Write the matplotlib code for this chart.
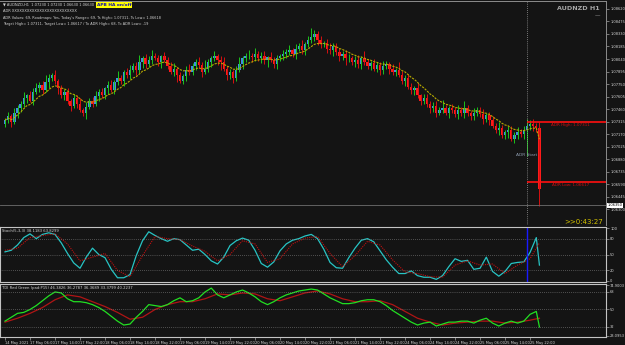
import matplotlib
matplotlib.use("Agg")
import matplotlib.pyplot as plt
import numpy as np
import pandas as pd

# values (AUDNZD H1, MT4 style)
time_labels = ['14 May 2021', '17 May 06:00', '17 May 14:00', '17 May 22:00', '18 May 06:00',
               '18 May 14:00', '18 May 22:00', '19 May 06:00', '19 May 14:00', '19 May 22:00',
               '20 May 06:00', '20 May 14:00', '20 May 22:00', '21 May 06:00', '21 May 14:00',
               '21 May 22:00', '24 May 06:00', '24 May 14:00', '24 May 22:00', '25 May 06:00',
               '25 May 14:00', '25 May 22:00']

first_open = 1.0729
closes = [1.0733, 1.0738, 1.0731, 1.0741, 1.0747, 1.0752,
          1.0759, 1.0762, 1.0756, 1.0766, 1.0770, 1.0774, 1.0768, 1.0777, 1.0782, 1.0785,
          1.0779, 1.0770, 1.0762, 1.0766, 1.0756, 1.0750, 1.0759,
          1.0752, 1.0745, 1.0742, 1.0749, 1.0756, 1.0752, 1.0761, 1.0766,
          1.0762, 1.0770, 1.0774, 1.0768, 1.0777, 1.0782, 1.0779, 1.0789, 1.0785, 1.0791,
          1.0796, 1.0791, 1.0800, 1.0805, 1.0798, 1.0803, 1.0808, 1.0805, 1.0800, 1.0807,
          1.0803, 1.0796, 1.0789, 1.0793, 1.0785, 1.0779, 1.0784, 1.0791, 1.0789, 1.0796, 1.0800, 1.0797,
          1.0789, 1.0793, 1.0800, 1.0805, 1.0808, 1.0803,
          1.0800, 1.0793, 1.0785, 1.0789, 1.0782,
          1.0791, 1.0798, 1.0805, 1.0807, 1.0808, 1.0806,
          1.0810, 1.0805, 1.0808, 1.0803, 1.0806,
          1.0803, 1.0798, 1.0805, 1.0807, 1.0810,
          1.0812, 1.0814, 1.0810, 1.0816, 1.0819, 1.0814, 1.0821,
          1.0826, 1.0830, 1.0833, 1.0826,
          1.0821, 1.0823, 1.0816, 1.0814, 1.0819, 1.0812, 1.0807, 1.0810, 1.0805,
          1.0805, 1.0800, 1.0803, 1.0798, 1.0805, 1.0800, 1.0796, 1.0799, 1.0793, 1.0797,
          1.0791, 1.0796, 1.0798, 1.0793, 1.0789, 1.0791,
          1.0786, 1.0779, 1.0782, 1.0772, 1.0768, 1.0770, 1.0762, 1.0756, 1.0759, 1.0752,
          1.0747, 1.0750, 1.0742, 1.0745,
          1.0747, 1.0742, 1.0747, 1.0745, 1.0740, 1.0745, 1.0742, 1.0747, 1.0741, 1.0738,
          1.0742, 1.0745, 1.0740, 1.0735, 1.0739,
          1.0733, 1.0727, 1.0722, 1.0724, 1.0716, 1.0719,
          1.0722, 1.0712, 1.0716, 1.0719, 1.0717,
          1.0722, 1.0726, 1.0729, 1.0727, 1.0724, 1.0654]

upper_wick_pips = [3, 5, 2, 6, 4, 3, 7, 2, 5, 4,
                   6, 3, 4, 8, 5, 3, 6, 2, 4, 3,
                   5, 2, 4, 3, 7, 2, 5, 3, 4, 6,
                   3, 5, 2, 4, 6, 3, 8, 4, 2, 5,
                   6, 3, 4, 9, 3, 5, 4, 6, 3, 4,
                   2, 5, 3, 4, 6, 2, 4, 3, 5, 7,
                   3, 4, 6, 3, 10, 4, 3, 5, 2, 4,
                   6, 3, 4, 2, 5, 8, 3, 4, 6, 3,
                   7, 3, 4, 5, 2, 6, 3, 4, 3, 5,
                   4, 6, 3, 5, 4, 7, 3, 5, 10, 4,
                   3, 5, 2, 4, 6, 3, 4, 5, 3, 4,
                   5, 3, 4, 6, 3, 8, 4, 3, 5, 4,
                   3, 6, 4, 2, 5, 3, 9, 4, 3, 5,
                   4, 3, 6, 2, 4, 5, 3, 4, 6, 3,
                   10, 4, 3, 5, 4, 6, 3, 8, 4, 3,
                   5, 3, 4, 6, 3, 4, 5, 3, 7, 4,
                   3, 5, 4, 3, 6, 4, 4, 9, 5, 6,
                   3, 7]
lower_wick_pips = [4, 3, 6, 2, 5, 4, 3, 6, 2, 5,
                   3, 4, 5, 2, 6, 3, 4, 7, 3, 5,
                   4, 6, 3, 5, 2, 4, 7, 3, 4, 2,
                   5, 3, 4, 6, 2, 5, 3, 4, 6, 3,
                   4, 2, 5, 3, 6, 4, 3, 5, 2, 4,
                   6, 3, 4, 2, 5, 8, 3, 4, 6, 3,
                   4, 5, 3, 6, 2, 4, 5, 3, 6, 9,
                   3, 5, 4, 6, 3, 2, 5, 4, 3, 6,
                   4, 3, 6, 5, 8, 3, 4, 5, 3, 4,
                   5, 3, 4, 6, 3, 4, 5, 3, 4, 5,
                   6, 4, 3, 5, 4, 6, 3, 5, 4, 8,
                   4, 3, 5, 4, 6, 3, 4, 5, 3, 4,
                   5, 4, 3, 6, 4, 5, 3, 4, 6, 3,
                   4, 6, 3, 5, 4, 3, 6, 4, 5, 3,
                   4, 3, 6, 4, 3, 5, 4, 6, 3, 4,
                   5, 4, 3, 6, 4, 5, 3, 4, 6, 3,
                   4, 6, 3, 5, 4, 3, 5, 30, 4, 6,
                   4, 20]

price_ticks = [1.08620, 1.08475, 1.08330, 1.08185, 1.08040, 1.07895, 1.07750, 1.07605,
               1.07460, 1.07315, 1.07170, 1.07025, 1.06880, 1.06735, 1.06590, 1.06445, 1.06300]
adr_high = 1.07311
adr_low = 1.06617
bid_price = 1.06350
adr_start_bar = 167

stoch_main = [55, 58, 68, 82, 89, 80, 88, 91, 88, 72,
              52, 34, 24, 45, 62, 50, 44, 22, 6, 6,
              12, 48, 76, 93, 86, 80, 75, 80, 78, 68,
              58, 60, 50, 38, 32, 45, 67, 76, 81, 77,
              58, 33, 26, 36, 57, 70, 77, 80, 85, 88,
              80, 60, 35, 25, 24, 44, 62, 77, 80, 74,
              57, 40, 26, 14, 14, 19, 10, 7, 7, 3,
              10, 27, 42, 37, 39, 22, 24, 45, 18, 9,
              18, 33, 35, 36, 54, 82, 30]
stoch_signal = [58, 62, 82, 86, 89, 70, 38, 45, 52, 20,
                8, 48, 84, 80, 78, 66, 56, 38, 50, 76,
                70, 35, 42, 70, 81, 84, 52, 27, 48, 75,
                68, 40, 17, 14, 8, 7, 30, 38, 30, 32,
                14, 30, 42, 72]
tdi_green = [38, 42, 46, 47, 50, 54, 59, 64, 68, 67,
             61, 58, 58, 57, 55, 52, 48, 43, 38, 34,
             35, 42, 48, 55, 54, 53, 55, 59, 62, 58,
             59, 62, 68, 72, 65, 62, 65, 68, 70, 67,
             63, 58, 55, 58, 62, 65, 67, 69, 70, 71,
             70, 66, 62, 59, 56, 56, 57, 59, 60, 60,
             58, 54, 49, 45, 41, 37, 34, 36, 37, 33,
             35, 37, 37, 38, 38, 36, 39, 41, 36, 33,
             36, 38, 36, 38, 45, 48, 32]
tdi_red = [37, 41, 46, 52, 60, 65, 63, 58, 53, 47,
           40, 42, 50, 55, 58, 58, 61, 66, 65, 67,
           66, 61, 59, 63, 67, 69, 66, 61, 58, 58,
           59, 55, 48, 41, 37, 34, 36, 37, 38, 38,
           36, 37, 39, 41]

BG = '#141414'
TXT = '#d4d4d4'
W, H = 625.0, 345.0
TICK_FS = 2.6

n = len(closes)
bars = np.arange(n)
c = np.array(closes)
o = np.array([first_open] + closes[:-1])
hi = np.maximum(o, c) + np.array(upper_wick_pips) * 0.0001
lo = np.minimum(o, c) - np.array(lower_wick_pips) * 0.0001
ma = pd.Series(closes).ewm(span=10).mean()

line_bars = list(range(0, 171, 2)) + [171]
sig_bars = list(range(0, 169, 4)) + [171]
x_left, x_right = -1.6, 192.3

fig = plt.figure(figsize=(6.25, 3.45), dpi=100, facecolor=BG)
ax = fig.add_axes([0, 1 - 225 / H, 606 / W, 224 / H], facecolor=BG)
ax_st = fig.add_axes([0, 1 - 282 / H, 606 / W, 55 / H], facecolor=BG)
ax_tdi = fig.add_axes([0, 1 - 337 / H, 606 / W, 53 / H], facecolor=BG)

# main candles
up = c >= o
ax.vlines(bars[up], lo[up], hi[up], color='#1cc41c', lw=0.7)
ax.vlines(bars[~up], lo[~up], hi[~up], color='#d81010', lw=0.7)
body = np.maximum(np.abs(c - o), 0.00004)
bottom = np.minimum(o, c)
ax.bar(bars[up], body[up], bottom=bottom[up], width=0.75, color='#3f8ee0', lw=0)
ax.bar(bars[~up], body[~up], bottom=bottom[~up], width=0.75, color='#ff1a1a', lw=0)
ax.plot(bars, ma, color='#b8aa00', lw=0.8, ls=(0, (2, 1)))

ax.axhline(bid_price, color='#6e6e6e', lw=0.6)
ax.axvline(adr_start_bar, color='#9a9a9a', lw=0.6, ls=(0, (1, 1.5)))
ax.hlines([adr_high, adr_low], adr_start_bar, x_right, color='#ff1010', lw=1.2)
ax.text(181, adr_high - 0.00012, f'ADR High: {adr_high:.5f}', color='#d01010', fontsize=3.0,
        ha='center', va='top')
ax.text(181, adr_low - 0.00012, f'ADR Low: {adr_low:.5f}', color='#d01010', fontsize=3.0,
        ha='center', va='top')
ax.text(adr_start_bar, 1.0693, 'ADR Start', color='#8d9cae', fontsize=3.2, ha='center', va='center')

ax.set_xlim(x_left, x_right)
ax.set_ylim(1.06120, 1.08711)
ax.yaxis.tick_right()
ax.set_yticks(price_ticks)
ax.set_yticklabels([f'{v:.5f}' for v in price_ticks])
ax.tick_params(axis='y', colors='#a0a0a0', labelcolor=TXT, labelsize=TICK_FS, length=2, width=0.5, pad=1)
ax.tick_params(axis='x', bottom=False, labelbottom=False)
for s in ['left', 'bottom']:
    ax.spines[s].set_visible(False)
for s in ['right', 'top']:
    ax.spines[s].set_color('#8c8c8c')
    ax.spines[s].set_linewidth(0.7)
ax.annotate(f'{bid_price:.5f}', xy=(1, bid_price), xycoords=('axes fraction', 'data'),
            xytext=(1.2, 0), textcoords='offset points', fontsize=TICK_FS, color='black', va='center',
            bbox=dict(boxstyle='square,pad=0.15', fc='white', ec='none'))

# stochastic
ax_st.plot(line_bars, stoch_main, color='#27c4c4', lw=0.9)
ax_st.plot(sig_bars, stoch_signal, color='#c01010', lw=0.8, ls=(0, (1, 1)))
for lvl in [80, 50, 20]:
    ax_st.axhline(lvl, color='#8a8a8a', lw=0.5, ls=(0, (1, 2)))
ax_st.axvline(adr_start_bar, color='#1a1aff', lw=1.0)
ax_st.set_xlim(x_left, x_right)
ax_st.set_ylim(-2, 102)
ax_st.yaxis.tick_right()
ax_st.set_yticks([100, 80, 50, 20, 0])
ax_st.set_yticklabels(['100', '80', '50', '20', '0'])
ax_st.text(0.004, 0.96, 'Stoch(5,3,3) 38.1183 63.8299', transform=ax_st.transAxes,
           color=TXT, fontsize=2.7, va='top')

# TDI
ax_tdi.plot(sig_bars, tdi_red, color='#b01414', lw=0.9)
ax_tdi.plot(line_bars, tdi_green, color='#22e022', lw=0.9)
for lvl in [68, 50, 32]:
    ax_tdi.axhline(lvl, color='#8a8a8a', lw=0.5, ls=(0, (1, 2)))
ax_tdi.set_xlim(x_left, x_right)
ax_tdi.set_ylim(21.7, 76.2)
ax_tdi.yaxis.tick_right()
ax_tdi.set_yticks([74.9003, 68, 50, 32, 23.0953])
ax_tdi.set_yticklabels(['74.9003', '68', '50', '32', '23.0953'])
ax_tdi.text(0.004, 0.96, 'TDI Red Green (pad:P15) 46.3826 36.2787 36.3689 33.3799 40.2237',
            transform=ax_tdi.transAxes, color=TXT, fontsize=2.7, va='top')
ax_tdi.set_xticks(list(range(0, 169, 8)))
ax_tdi.set_xticklabels(time_labels)
for lbl in ax_tdi.get_xticklabels():
    lbl.set_ha('left')
ax_tdi.tick_params(axis='x', colors='#a0a0a0', labelcolor=TXT, labelsize=2.6, length=2, width=0.5, pad=1)

for a in [ax_st, ax_tdi]:
    a.tick_params(axis='y', colors='#a0a0a0', labelcolor=TXT, labelsize=TICK_FS, length=2, width=0.5, pad=1)
    for s in a.spines.values():
        s.set_color('#c4c4c4')
        s.set_linewidth(0.8)
ax_st.tick_params(axis='x', bottom=False, labelbottom=False)

# header texts
fig.text(3 / W, 1 - 5 / H, '\u25bc AUDNZD,H1  1.07230 1.07230 1.06630 1.06630', color=TXT,
         fontsize=2.6, va='center')
fig.text(3 / W, 1 - 11.5 / H, 'ADR XXXXXXXXXXXXXXXXXXXXXXXXXX', color=TXT, fontsize=2.6, va='center')
fig.text(3 / W, 1 - 17.5 / H, "ADR Values: 69, Roadmaps: Yes, Today's Range= 69, Ts High= 1.07311, "
         "Ts Low= 1.06618", color=TXT, fontsize=2.5, va='center')
fig.text(3 / W, 1 - 23.5 / H, 'Target High= 1.07311, Target Low= 1.06617 / To ADR High= 68, '
         'To ADR Low= -19', color=TXT, fontsize=2.5, va='center')
fig.text(114 / W, 1 - 5 / H, 'APB HA on/off', color='#1010b0', fontsize=3.2, fontweight='bold',
         ha='center', va='center', bbox=dict(boxstyle='square,pad=0.25', fc='#ffff00', ec='none'))
fig.text(600 / W, 1 - 9 / H, 'AUDNZD H1', color='#a8a8a8', fontsize=4.6, fontweight='bold',
         ha='right', va='center')
fig.text(600 / W, 1 - 16 / H, '\u2014', color='#a8a8a8', fontsize=4, ha='right', va='center')
fig.text(603 / W, 1 - 222 / H, '>>0:43:27', color='#d2c000', fontsize=5, ha='right', va='center')

fig.savefig('out.png', dpi=100, facecolor=BG)
